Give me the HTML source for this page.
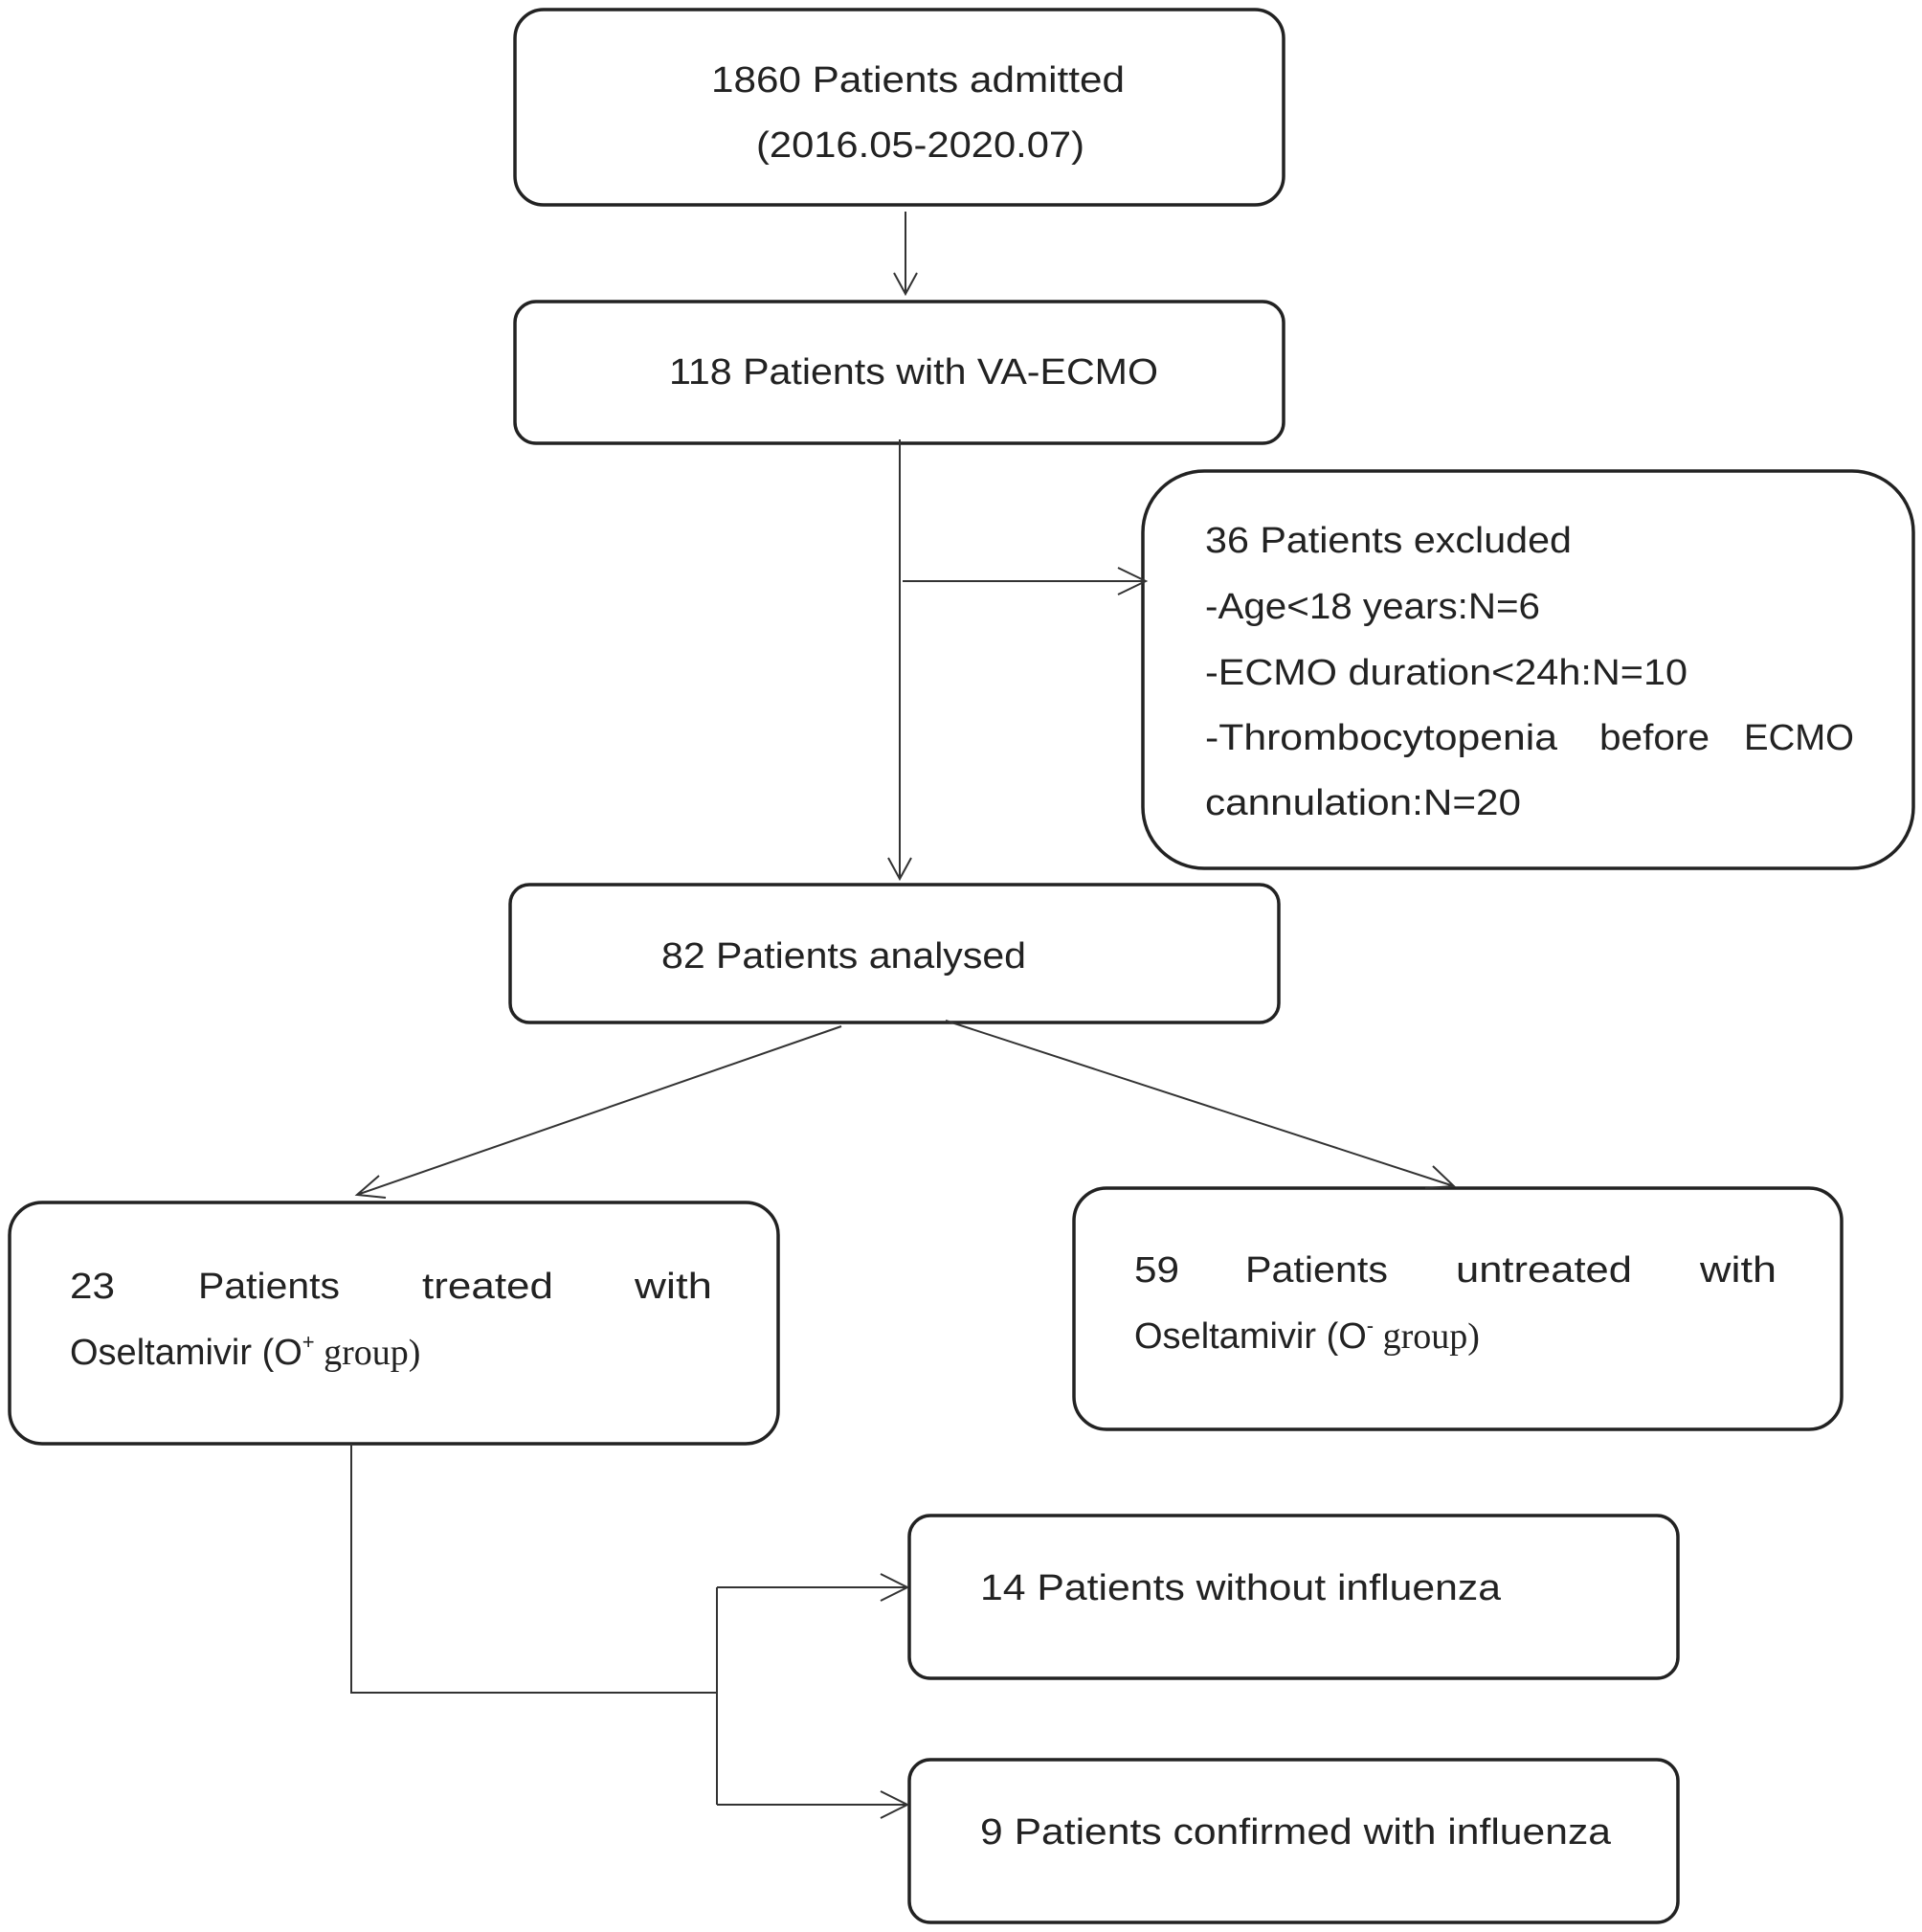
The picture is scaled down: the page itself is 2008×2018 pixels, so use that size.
<!DOCTYPE html>
<html><head><meta charset="utf-8"><style>html,body{margin:0;padding:0;background:#fff}svg{display:block}</style></head><body>
<svg width="2008" height="2018" viewBox="0 0 2008 2018" xmlns="http://www.w3.org/2000/svg" font-family="Liberation Sans, sans-serif" font-size="38" fill="#222">
<g fill="none" stroke="#222" stroke-width="3.5">
<rect x="538" y="10" width="803" height="204" rx="30"/>
<rect x="538" y="315" width="803" height="148" rx="22"/>
<rect x="1194" y="492" width="805" height="415" rx="64"/>
<rect x="533" y="924" width="803" height="144" rx="20"/>
<rect x="10" y="1256" width="803" height="252" rx="34"/>
<rect x="1122" y="1241" width="802" height="252" rx="34"/>
<rect x="950" y="1583" width="803" height="170" rx="22"/>
<rect x="950" y="1838" width="803" height="170" rx="22"/>
</g>
<g fill="none" stroke="#333" stroke-width="2">
<path d="M946 221V307M934 285L946 307L958 285"/>
<path d="M940 459V918M928 896L940 918L952 896"/>
<path d="M943 607H1197M1168 593L1197 607L1168 621"/>
<path d="M879 1072L373 1248M396 1228L373 1248L403 1251"/>
<path d="M988 1066L1519 1239M1497 1218L1519 1239L1489 1241"/>
<path d="M367 1508V1768H749M749 1658V1885M749 1658H948M920 1644L948 1658L920 1672M749 1885H948M920 1871L948 1885L920 1899"/>
</g>
<g dominant-baseline="central" lengthAdjust="spacingAndGlyphs">
<text x="743" y="84" textLength="432" lengthAdjust="spacingAndGlyphs">1860 Patients admitted</text>
<text x="790" y="152" textLength="343" lengthAdjust="spacingAndGlyphs">(2016.05-2020.07)</text>
<text x="699" y="389" textLength="511" lengthAdjust="spacingAndGlyphs">118 Patients with VA-ECMO</text>
<text x="1259" y="565" textLength="383" lengthAdjust="spacingAndGlyphs">36 Patients excluded</text>
<text x="1259" y="634" textLength="350" lengthAdjust="spacingAndGlyphs">-Age&lt;18 years:N=6</text>
<text x="1259" y="703" textLength="504" lengthAdjust="spacingAndGlyphs">-ECMO duration&lt;24h:N=10</text>
<text x="1259" y="771" textLength="368" lengthAdjust="spacingAndGlyphs">-Thrombocytopenia</text>
<text x="1671" y="771" textLength="115" lengthAdjust="spacingAndGlyphs">before</text>
<text x="1822" y="771" textLength="115" lengthAdjust="spacingAndGlyphs">ECMO</text>
<text x="1259" y="839" textLength="330" lengthAdjust="spacingAndGlyphs">cannulation:N=20</text>
<text x="691" y="999" textLength="381" lengthAdjust="spacingAndGlyphs">82 Patients analysed</text>
<text x="73" y="1344" textLength="47" lengthAdjust="spacingAndGlyphs">23</text>
<text x="207" y="1344" textLength="148" lengthAdjust="spacingAndGlyphs">Patients</text>
<text x="441" y="1344" textLength="137" lengthAdjust="spacingAndGlyphs">treated</text>
<text x="663" y="1344" textLength="81" lengthAdjust="spacingAndGlyphs">with</text>
<text x="73" y="1413">Oseltamivir (O<tspan font-size="22" dy="-12">+</tspan><tspan dy="12" font-family="Liberation Serif, serif"> group)</tspan></text>
<text x="1185" y="1327" textLength="47" lengthAdjust="spacingAndGlyphs">59</text>
<text x="1301" y="1327" textLength="149" lengthAdjust="spacingAndGlyphs">Patients</text>
<text x="1521" y="1327" textLength="184" lengthAdjust="spacingAndGlyphs">untreated</text>
<text x="1776" y="1327" textLength="80" lengthAdjust="spacingAndGlyphs">with</text>
<text x="1185" y="1396">Oseltamivir (O<tspan font-size="22" dy="-12">-</tspan><tspan dy="12" font-family="Liberation Serif, serif"> group)</tspan></text>
<text x="1024" y="1659" textLength="544" lengthAdjust="spacingAndGlyphs">14 Patients without influenza</text>
<text x="1024" y="1914" textLength="659" lengthAdjust="spacingAndGlyphs">9 Patients confirmed with influenza</text>
</g>
</svg>
</body></html>
